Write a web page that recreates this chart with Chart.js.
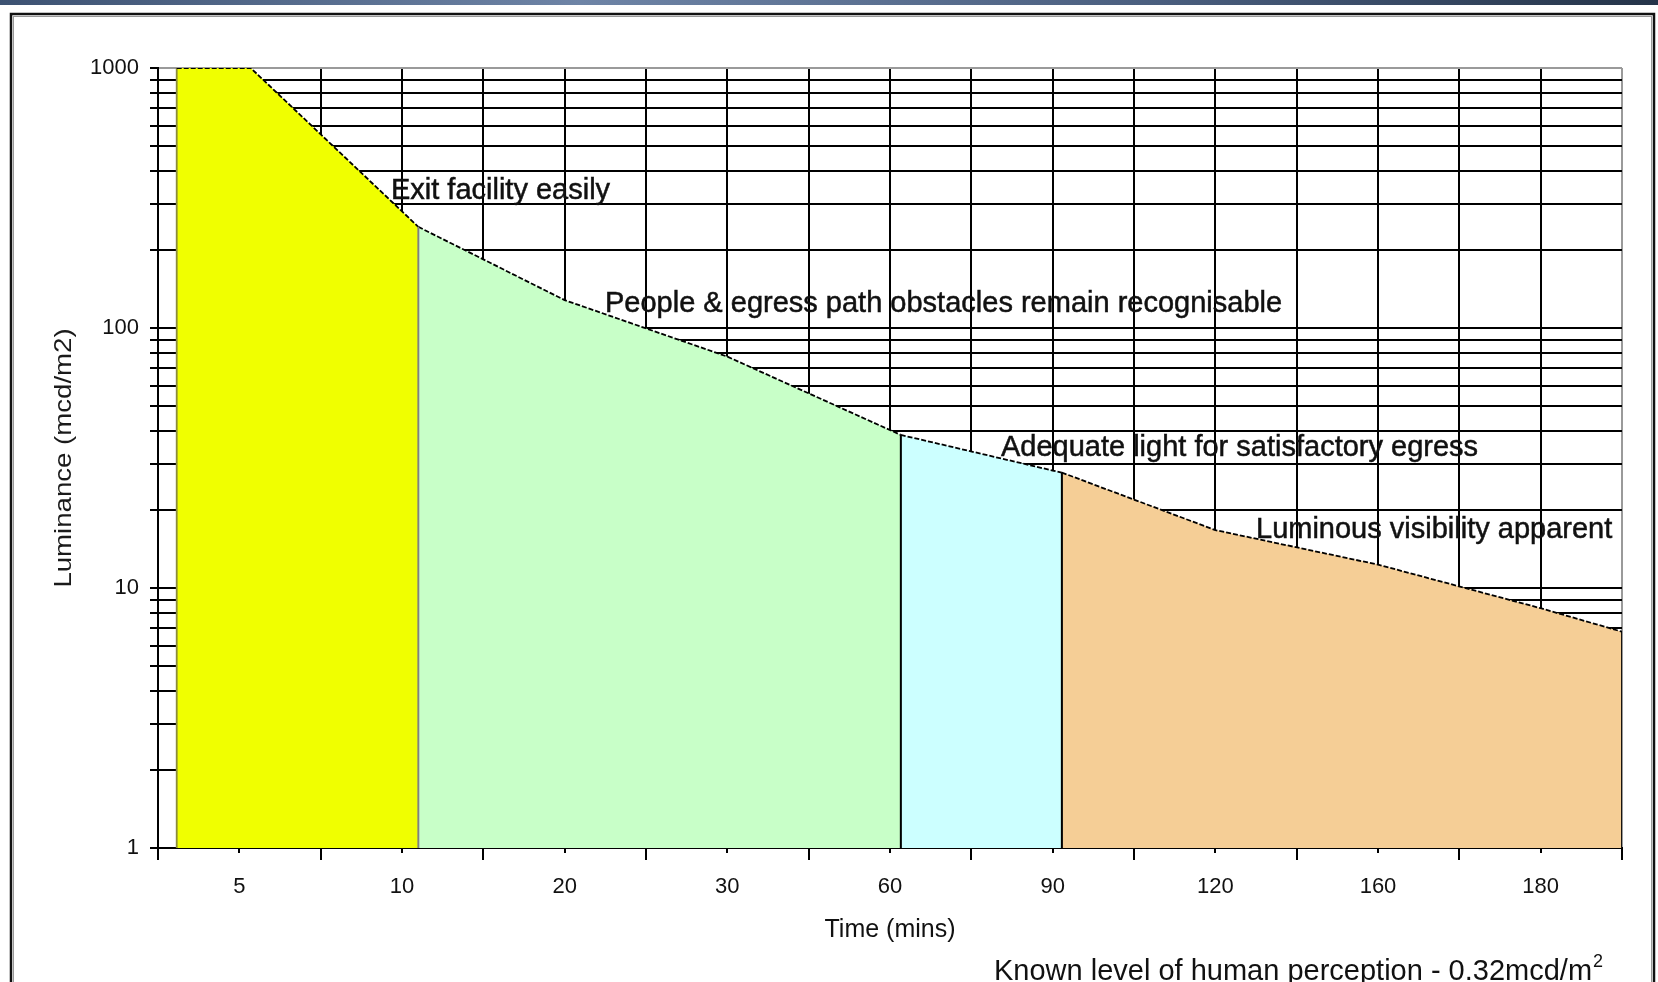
<!DOCTYPE html>
<html><head><meta charset="utf-8">
<script src="https://cdn.jsdelivr.net/npm/chart.js@4.4.1/dist/chart.umd.min.js"></script>
<style>html,body{margin:0;padding:0;background:#fff;overflow:hidden}canvas{display:block}</style>
</head><body>
<canvas id="c" width="1658" height="982"></canvas>
<script>
// ---- Data ----
// Category labels (time in minutes); each category spans one unit on the x axis
const xTickLabels = ['5','10','20','30','60','90','120','160','180'];
const xTickValues = [0,0.5,1,1.5,2,2.5,3,3.5,4,4.5,5,5.5,6,6.5,7,7.5,8,8.5,9];
const yTickValues = [1,2,3,4,5,6,7,8,9,10,20,30,40,50,60,70,80,90,100,200,300,400,500,600,700,800,900,1000];
const yLabelValues = [1,10,100,1000];

// Zone outlines: x in category units, y = luminance (mcd/m2)
const exitX = [0.115, 0.115, 0.57, 1.6, 1.6];
const exitY = [1, 1000, 1000, 245, 1];
const peopleX = [1.6, 1.6, 2.5, 3.5, 4.566, 4.566];
const peopleY = [1, 245, 128, 77.6, 38.8, 1];
const adequateX = [4.566, 4.566, 5.5, 5.556, 5.556];
const adequateY = [1, 38.8, 28.3, 27.8, 1];
const visibleX = [5.556, 5.556, 6.5, 7.5, 8.5, 9, 9];
const visibleY = [1, 27.8, 16.7, 12.3, 8.36, 6.79, 1];

// Zone captions
const zoneLabels = ['Exit facility easily', 'People & egress path obstacles remain recognisable', 'Adequate light for satisfactory egress', 'Luminous visibility apparent'];
const zoneLabelX = [1.432, 2.748, 5.182, 6.75];
const zoneLabelY = [336, 124, 34.5, 16.7];

const yTitle = 'Luminance (mcd/m2)';
const footnote = 'Known level of human perception - 0.32mcd/m';

const FONT = "'Liberation Sans', Arial, sans-serif";

function pts(xs, ys){ return xs.map((x,i)=>({x:x, y:ys[i]})); }

function zone(label, xs, ys, fillColor, leftEdge, rightEdge){
  return {
    label: label,
    data: pts(xs, ys),
    backgroundColor: fillColor,
    fill: 'start',
    borderColor: '#000',
    borderWidth: 1.8,
    pointRadius: 0,
    tension: 0,
    segment: {
      borderColor: ctx => ctx.p0.parsed.x === ctx.p1.parsed.x ? (ctx.p0DataIndex === 0 ? leftEdge : rightEdge) : '#000',
      borderDash: ctx => ctx.p0.parsed.x === ctx.p1.parsed.x ? [] : [5,2]
    }
  };
}

const decor = {
  id: 'decor',
  beforeDraw(chart){
    const c = chart.ctx;
    c.save();
    c.fillStyle = '#fff';
    c.fillRect(0,0,chart.width,chart.height);
    const g = c.createLinearGradient(0,0,chart.width,0);
    g.addColorStop(0,'#3d5272'); g.addColorStop(0.35,'#6e84a6'); g.addColorStop(0.7,'#4a5e7e'); g.addColorStop(1,'#253449');
    c.fillStyle = g;
    c.fillRect(0,0,chart.width,5);
    c.strokeStyle = '#999';
    c.lineWidth = 1;
    c.strokeRect(13.5,16.5,1638,1000);
    c.strokeStyle = '#111';
    c.lineWidth = 2.5;
    c.strokeRect(11,14,1643,1000);
    c.restore();
  },
  afterDraw(chart){
    const c = chart.ctx, xs = chart.scales.x, ys = chart.scales.y;
    const base = chart.chartArea.bottom;
    c.save();
    // x tick marks: long at category edges, short at category centres
    c.strokeStyle = '#000'; c.lineWidth = 2;
    xTickValues.forEach(v => {
      const px = Math.round(xs.getPixelForValue(v));
      const len = (v % 1 === 0) ? 12 : 5;
      c.beginPath(); c.moveTo(px, base); c.lineTo(px, base + len); c.stroke();
    });
    // zone captions
    c.fillStyle = '#111'; c.strokeStyle = '#111'; c.lineWidth = 0.5;
    c.font = '29px ' + FONT;
    c.textBaseline = 'middle'; c.textAlign = 'left';
    zoneLabels.forEach((t,i) => {
      const px = xs.getPixelForValue(zoneLabelX[i]), py = ys.getPixelForValue(zoneLabelY[i]);
      c.fillText(t, px, py);
      c.strokeText(t, px, py);
    });
    // y axis title (slightly stretched along its length like the original)
    c.save();
    c.translate(64, (chart.chartArea.top + chart.chartArea.bottom) / 2);
    c.rotate(-Math.PI / 2);
    c.scale(1.15, 1);
    c.textAlign = 'center'; c.textBaseline = 'middle';
    c.font = '24px ' + FONT;
    c.fillStyle = '#1a1a1a';
    c.fillText(yTitle, 0, 0);
    c.restore();
    // footnote
    c.textBaseline = 'alphabetic';
    c.font = '29px ' + FONT;
    c.fillStyle = '#111';
    c.fillText(footnote, 994, 980);
    const w = c.measureText(footnote).width;
    c.font = '18px ' + FONT;
    c.fillText('2', 994 + w + 1, 967);
    c.restore();
  }
};

new Chart(document.getElementById('c'), {
  type: 'line',
  data: {
    datasets: [
      zone('Exit facility easily', exitX, exitY, '#F0FF00', '#8c8c3a', '#808080'),
      zone('People & egress path obstacles remain recognisable', peopleX, peopleY, '#C8FFC8', '#808080', '#000'),
      zone('Adequate light for satisfactory egress', adequateX, adequateY, '#CCFFFF', '#000', '#000'),
      zone('Luminous visibility apparent', visibleX, visibleY, '#F5CE96', '#000', '#000')
    ]
  },
  options: {
    responsive: false,
    devicePixelRatio: 1,
    animation: false,
    layout: { padding: { left: 0, right: 36, top: 68, bottom: 0 } },
    plugins: { legend: { display: false }, tooltip: { enabled: false }, title: { display: false } },
    scales: {
      x: {
        type: 'linear', min: 0, max: 9,
        afterBuildTicks(s){ s.ticks = xTickValues.map(v => ({value: v})); },
        afterFit(s){ s.height = 134; },
        border: { display: true, color: '#000', width: 2 },
        grid: {
          drawTicks: false,
          color: ctx => (ctx.tick && ctx.tick.value === 9) ? '#9a9a9a' : '#000',
          lineWidth: 2
        },
        ticks: {
          autoSkip: false, maxRotation: 0, padding: 26,
          color: '#111', font: { family: FONT, size: 22 },
          callback: v => (v % 1 === 0.5) ? xTickLabels[Math.floor(v)] : ''
        },
        title: { display: true, text: 'Time (mins)', color: '#111', font: { family: FONT, size: 25 }, padding: { top: 0, bottom: 37 } }
      },
      y: {
        type: 'logarithmic', min: 1, max: 1000,
        afterBuildTicks(s){ s.ticks = yTickValues.map(v => ({value: v})); },
        afterFit(s){ s.width = 158; },
        border: { display: true, color: '#000', width: 2 },
        grid: {
          drawTicks: true, tickLength: 8, tickColor: '#000', tickWidth: 2,
          color: ctx => (ctx.tick && ctx.tick.value === 1000) ? '#9a9a9a' : '#000',
          lineWidth: 2
        },
        ticks: {
          autoSkip: false, padding: 11,
          color: '#111', font: { family: FONT, size: 22 },
          callback: v => yLabelValues.includes(v) ? String(v) : ''
        },
        title: { display: false }
      }
    }
  },
  plugins: [decor]
});
</script>
</body></html>
